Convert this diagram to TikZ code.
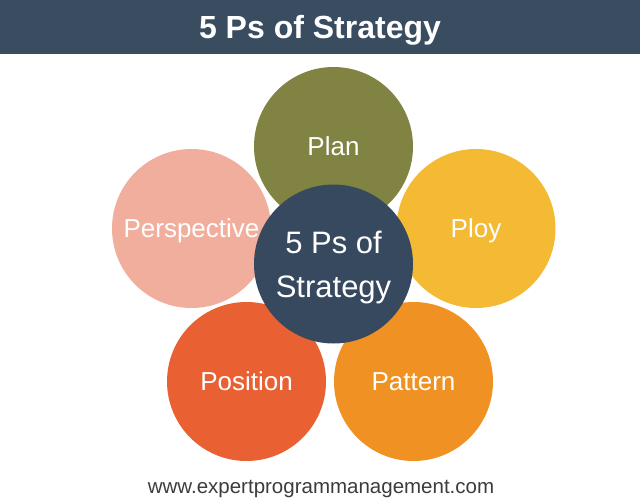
\documentclass[tikz,border=0pt]{standalone}
\usepackage{fontspec}
\setmainfont{Liberation Sans}
\usetikzlibrary{positioning}
\definecolor{barblue}{HTML}{394C60}
\definecolor{coreblue}{HTML}{37495E}
\definecolor{planolive}{HTML}{808342}
\definecolor{perspsalmon}{HTML}{F2AE9D}
\definecolor{ployyellow}{HTML}{F4BA34}
\definecolor{posred}{HTML}{E96132}
\definecolor{patorange}{HTML}{F09123}
\definecolor{footgray}{HTML}{3C3C3C}

\begin{document}
\begin{tikzpicture}[x=1pt, y=-1pt,
    disc/.style={circle, draw=none, inner sep=0pt, minimum size=159pt},
    ptext/.style={text=white, inner sep=0pt, text depth=0pt, font=\fontsize{26}{30}\selectfont},
    coretext/.style={text=white, inner sep=0pt, text depth=0pt, align=center, font=\fontsize{31}{44}\selectfont},
    titlebar/.style={rectangle, fill=barblue, minimum width=640pt, minimum height=54pt, inner sep=0pt,
      text=white, text depth=0pt, font=\fontsize{32}{36}\selectfont\bfseries}]

\useasboundingbox (0,0) rectangle (640,500);

% Title bar
\node[titlebar] (title) at (320,27) {5 Ps of Strategy};

% Outer circles
\node[disc, fill=planolive] (plan) at (333.5,146.5) {};
\node[disc, fill=perspsalmon] (perspective) at (191.5,228.5) {};
\node[disc, fill=ployyellow] (ploy) at (476,228.5) {};
\node[disc, fill=posred] (position) at (246.5,381.5) {};
\node[disc, fill=patorange] (pattern) at (413.5,381.5) {};

% Centre circle
\node[disc, fill=coreblue] (core) at (333.5,264) {};

% Labels
\node[ptext] (plantxt) at (plan) {Plan};
\node[ptext] (perspectivetxt) at (perspective) {Perspective};
\node[ptext] (ploytxt) at (ploy) {Ploy};
\node[ptext] (positiontxt) at (position) {Position};
\node[ptext] (patterntxt) at (pattern) {Pattern};
\node[coretext] (coretxt) at (core) {5 Ps of\\Strategy};

% Footer
\node[anchor=base, text=footgray, inner sep=0pt, font=\fontsize{20.5}{24}\selectfont] (footer) at (321,493) {www.expertprogrammanagement.com};

\end{tikzpicture}
\end{document}
